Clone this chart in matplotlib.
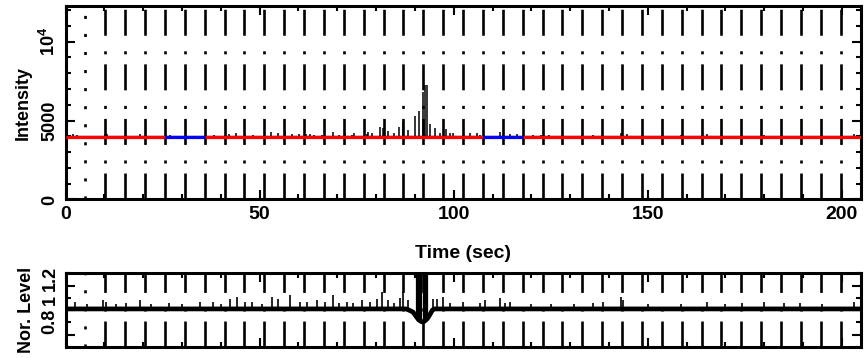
import numpy as np
import matplotlib
matplotlib.use("Agg")
import matplotlib.pyplot as plt
from matplotlib import font_manager
from matplotlib.ticker import MultipleLocator
from matplotlib.transforms import ScaledTranslation

# ---------------- data ----------------
time_limits = [0.0, 204.8]
frame_period = 5.12
marker_times = frame_period * np.arange(1, 40)          # vertical frame markers

# top panel: intensity
intensity_limits = [0, 12260]
base_intensity = 4040
fit_level = 3960
fit_red_start = [0.0, 35.84, 117.76]
fit_red_end = [25.6, 107.52, 204.8]
fit_blue_start = [25.6, 107.52]
fit_blue_end = [35.84, 117.76]

spike_times = [2.0, 3.0, 10.3, 10.8, 19.2, 27.0, 38.2, 42.2, 43.8, 46.3, 48.4,
               53.0, 54.8, 56.5, 58.4, 60.2, 62.0, 63.0, 64.0, 66.0, 69.0, 70.5,
               72.0, 73.7, 74.2, 77.6, 78.0, 78.9, 81.0, 81.9, 83.2, 84.5, 86.0,
               87.0, 88.3, 90.0, 91.1, 92.2, 92.6, 93.0, 93.9, 95.2, 96.5, 98.0,
               99.0, 99.9, 104.2, 105.9, 106.7, 112.0, 114.5, 116.2, 120.5, 122.5,
               124.5, 133.0, 136.0, 143.0, 144.7, 158.5, 165.3, 180.0, 203.0]
spike_intensity = [4150, 4100, 4150, 4120, 4150, 4100, 4100, 4150, 4230, 4150, 4100,
                   4270, 4200, 4330, 4120, 4150, 4150, 4150, 4100, 4100, 4270, 4100,
                   4230, 4100, 4190, 4150, 4300, 4210, 4610, 4510, 4360, 4190, 4610,
                   4930, 4400, 5290, 5630, 6800, 7260, 7260, 4770, 4510, 4200, 4450,
                   4230, 4190, 4190, 4230, 4100, 4250, 4120, 4150, 4100, 4080,
                   4080, 4100, 4100, 4230, 4150, 4100, 4120, 4080, 4150]

# bottom panel: normalised level
level_limits = [0.7, 1.3]
level_base_t = [0.0, 87.7, 88.5, 89.5, 90.3, 91.0, 91.8, 92.5, 93.2, 93.8, 94.5, 95.0, 204.8]
level_base_v = [1.01, 1.01, 1.0, 0.985, 0.95, 0.92, 0.905, 0.91, 0.93, 0.96, 1.0, 1.01, 1.01]
level_spike_base = 1.01
level_spike_t = [2.4, 5.5, 9.7, 10.5, 13.0, 15.5, 19.2, 22.0, 26.6, 30.0, 34.7,
                 38.0, 40.0, 42.4, 44.1, 46.2, 48.0, 50.5, 53.1, 54.8, 57.8, 60.4,
                 62.1, 64.7, 66.9, 69.0, 70.5, 72.5, 74.0, 76.3, 78.5, 80.2, 81.5,
                 83.2, 84.5, 86.2, 87.0, 88.3, 94.8, 95.6, 97.3, 99.0, 102.5, 106.8,
                 108.0, 112.0, 113.2, 114.5, 120.0, 125.0, 131.0, 136.0, 138.5,
                 143.0, 143.7, 150.0, 158.5, 165.2, 170.0, 174.2, 180.0, 185.0,
                 189.3, 195.0, 203.0]
level_spike_v = [1.07, 1.05, 1.08, 1.07, 1.05, 1.06, 1.08, 1.05, 1.06, 1.05, 1.07,
                 1.065, 1.05, 1.09, 1.105, 1.07, 1.07, 1.05, 1.105, 1.09, 1.125, 1.07,
                 1.07, 1.08, 1.07, 1.125, 1.06, 1.07, 1.06, 1.08, 1.07, 1.09, 1.15,
                 1.08, 1.06, 1.10, 1.15, 1.08, 1.09, 1.09, 1.11, 1.06, 1.07, 1.06,
                 1.08, 1.10, 1.06, 1.07, 1.05, 1.05, 1.05, 1.06, 1.07,
                 1.11, 1.08, 1.05, 1.05, 1.07, 1.05, 1.06, 1.065, 1.06,
                 1.06, 1.05, 1.07]
event_t = [90.2, 90.5, 90.8, 91.1, 91.4, 91.7, 92.0, 92.3, 92.6, 92.9, 93.2]
event_base = [0.95, 0.94, 0.93, 0.92, 0.91, 0.905, 0.905, 0.91, 0.91, 0.925, 0.93]
event_top = [1.34, 1.38, 1.42, 1.45, 1.55, 1.70, 1.83, 1.83, 1.80, 1.60, 1.35]

# ---------------- style ----------------
names = {f.name for f in font_manager.fontManager.ttflist}
narrow = 'Liberation Sans Narrow' if 'Liberation Sans Narrow' in names else 'Liberation Sans'

plt.rcParams['font.family'] = ['Liberation Sans', 'DejaVu Sans']
plt.rcParams['font.weight'] = 'bold'
plt.rcParams['axes.labelweight'] = 'bold'
plt.rcParams['mathtext.fontset'] = 'custom'
plt.rcParams['mathtext.bf'] = 'Liberation Sans:bold'
plt.rcParams['mathtext.rm'] = 'Liberation Sans:bold'
plt.rcParams['lines.scale_dashes'] = False

W, H = 866, 358
fig = plt.figure(figsize=(W / 100, H / 100), dpi=100)
fig.patch.set_facecolor('white')
ax1 = fig.add_axes([65.5 / W, 1 - 199.5 / H, 795 / W, 193.5 / H])
ax2 = fig.add_axes([65.5 / W, 1 - 347 / H, 795 / W, 73.7 / H])

dashdot = (0, (18.7, 7.2, 2.2, 11.2))
dotted = (0, (2.2, 10.8))

for ax in (ax1, ax2):
    ax.set_xlim(time_limits)
    for s in ax.spines.values():
        s.set_linewidth(2.2)
    ax.xaxis.set_major_locator(MultipleLocator(50))
    ax.xaxis.set_minor_locator(MultipleLocator(10))
    ax.tick_params(which='both', direction='in', top=True, right=True, width=1.5)
    ax.tick_params(which='major', length=6.5)
    ax.tick_params(which='minor', length=3.5)
    xa = ax.get_xaxis_transform()
    ax.vlines(marker_times[:1], 0, 1, transform=xa, colors='black',
              linewidth=1.9, linestyles=[dotted], zorder=3)
    ax.vlines(marker_times[1:], 0, 1, transform=xa, colors='black',
              linewidth=1.9, linestyles=[dashdot], zorder=3)

# top panel
ax1.set_ylim(intensity_limits)
ax1.hlines(base_intensity, time_limits[0], time_limits[1], color='black', lw=1.0, zorder=2)
ax1.vlines(spike_times, base_intensity, spike_intensity, color='black', lw=1.1, zorder=2)
ax1.hlines([fit_level] * len(fit_red_start), fit_red_start, fit_red_end,
           color='#ff0000', lw=2.3, zorder=4)
ax1.hlines([fit_level] * len(fit_blue_start), fit_blue_start, fit_blue_end,
           color='#0000ff', lw=2.3, zorder=4)
ax1.set_yticks([0, 5000, 10000], labels=['0', '5000', r'$\mathbf{10^4}$'])
ax1.yaxis.set_minor_locator(MultipleLocator(1000))
ax1.tick_params(axis='y', labelrotation=90, labelsize=13, pad=5)
for lab in ax1.get_yticklabels():
    lab.set_va('center')
ax1.tick_params(axis='x', labelsize=14, pad=4.5)
ax1.set_xlabel('Time (sec)', fontsize=14, labelpad=16)
ax1.set_ylabel('Intensity', fontsize=13, labelpad=5)

# bottom panel
ax2.set_ylim(level_limits)
ax2.plot(level_base_t, level_base_v, color='black', lw=3.4, zorder=2)
ax2.vlines(level_spike_t, level_spike_base, level_spike_v, color='black', lw=1.2, zorder=2)
ax2.vlines(event_t, event_base, event_top, color='black', lw=0.9, zorder=2)
ax2.set_yticks([0.8, 1.0, 1.2], labels=['0.8', '1', '1.2'])
ax2.yaxis.set_minor_locator(MultipleLocator(0.1))
ax2.tick_params(axis='x', labelbottom=False)
ax2.tick_params(axis='y', labelrotation=90, labelsize=13, pad=5)
for lab, dy in zip(ax2.get_yticklabels(), [13.5, 10.0, 7.5]):
    lab.set_va('center')
    lab.set_family([narrow, 'DejaVu Sans'])
    lab.set_transform(lab.get_transform() + ScaledTranslation(0, dy / 100, fig.dpi_scale_trans))
ax2.set_ylabel('Nor. Level', fontsize=13, labelpad=5)

fig.savefig('out.png', dpi=100, facecolor='white')
